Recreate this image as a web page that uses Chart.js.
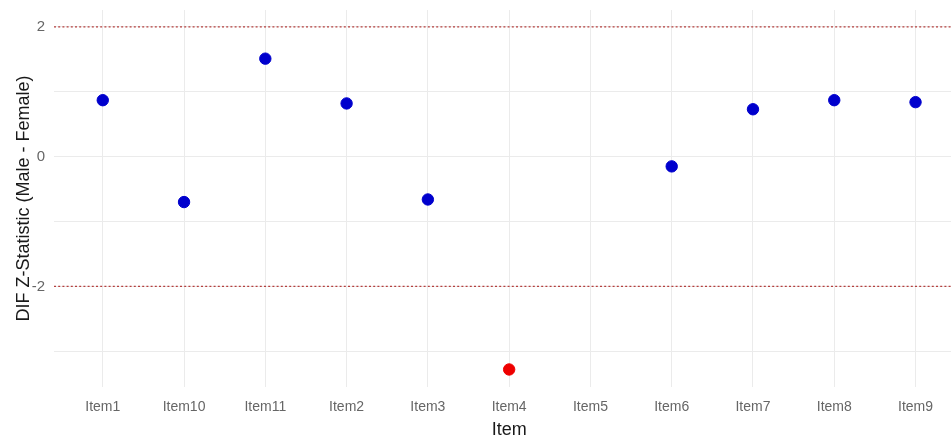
<!DOCTYPE html>
<html>
<head>
<meta charset="utf-8">
<script src="https://cdn.jsdelivr.net/npm/chart.js@4"></script>
<style>
  html, body { margin: 0; padding: 0; background: #fff; overflow: hidden; }
  #wrap { width: 971px; height: 441px; }
</style>
</head>
<body>
<div id="wrap"><canvas id="difChart"></canvas></div>
<script>
// Data
const items = ["Item1", "Item10", "Item11", "Item2", "Item3", "Item4", "Item5", "Item6", "Item7", "Item8", "Item9"];
const zValues = [0.87, -0.70, 1.51, 0.82, -0.66, -3.28, null, -0.15, 0.73, 0.87, 0.84];
const refLines = [2, -2];
const yGridTicks = [-3, -2, -1, 0, 1, 2];
const yLabelTicks = [2, 0, -2];

// discrete axis with ggplot-style 0.6 expansion on both sides
const xMin = -0.6;
const xMax = 10.6;

// flagged items (|z| > 2) are red
const pointColors = zValues.map(v => (v !== null && Math.abs(v) > 2 ? "#ee0000" : "#0000cd"));

const points = [];
zValues.forEach((v, i) => { if (v !== null) points.push({ x: i, y: v }); });

const refDatasets = refLines.map(r => ({
  type: "line",
  data: [{ x: xMin, y: r }, { x: xMax, y: r }],
  borderColor: "#b5403f",
  borderWidth: 1.3,
  borderDash: [2, 2.2],
  pointRadius: 0,
  order: 2
}));

new Chart(document.getElementById("difChart"), {
  type: "scatter",
  data: {
    datasets: [
      ...refDatasets,
      {
        data: points,
        backgroundColor: points.map(p => pointColors[p.x]),
        borderColor: points.map(p => pointColors[p.x]),
        pointRadius: 5.7,
        pointHoverRadius: 5.7,
        order: 1
      }
    ]
  },
  options: {
    responsive: true,
    maintainAspectRatio: false,
    animation: false,
    layout: { padding: { top: 10, right: 0, bottom: 0, left: 0 } },
    plugins: { legend: { display: false }, tooltip: { enabled: false } },
    scales: {
      x: {
        type: "linear",
        min: xMin,
        max: xMax,
        afterBuildTicks: s => { s.ticks = items.map((_, i) => ({ value: i })); },
        afterFit: s => { s.height = 54; s.paddingLeft = 0; s.paddingRight = 0; },
        grid: { color: "#ebebeb", lineWidth: 1, drawTicks: false },
        border: { display: false },
        ticks: {
          padding: 12,
          color: "#666666",
          font: { family: "Liberation Sans, Arial, sans-serif", size: 14 },
          callback: v => items[v]
        },
        title: {
          display: true,
          text: "Item",
          color: "#1a1a1a",
          padding: { top: 0, bottom: 0 },
          font: { family: "Liberation Sans, Arial, sans-serif", size: 18 }
        }
      },
      y: {
        min: -3.55,
        max: 2.26,
        afterBuildTicks: s => { s.ticks = yGridTicks.map(v => ({ value: v })); },
        afterFit: s => { s.width = 54; s.paddingTop = 0; s.paddingBottom = 0; },
        grid: { color: "#ebebeb", lineWidth: 1, drawTicks: false },
        border: { display: false },
        ticks: {
          padding: 9,
          color: "#666666",
          font: { family: "Liberation Sans, Arial, sans-serif", size: 15 },
          callback: v => (yLabelTicks.includes(v) ? String(v) : "")
        },
        title: {
          display: true,
          text: "DIF Z-Statistic (Male - Female)",
          color: "#1a1a1a",
          padding: { top: 13, bottom: 0 },
          font: { family: "Liberation Sans, Arial, sans-serif", size: 18 }
        }
      }
    }
  }
});
</script>
</body>
</html>
